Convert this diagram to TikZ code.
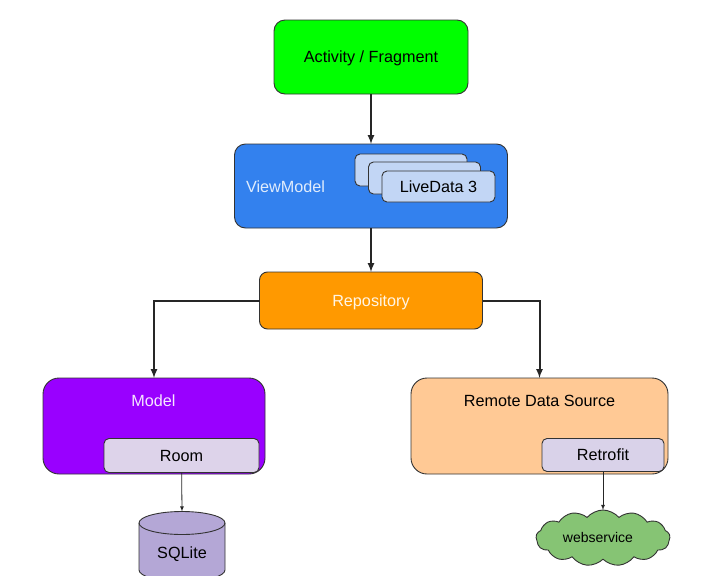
\documentclass[tikz,border=0pt]{standalone}
\usepackage{fontspec}
\setmainfont{Liberation Sans}
\usetikzlibrary{positioning, shapes.symbols}
\definecolor{aktivgruen}{HTML}{00FF00}
\definecolor{vmblau}{HTML}{3381EE}
\definecolor{livedatablau}{HTML}{C2D6F5}
\definecolor{repoorange}{HTML}{FF9900}
\definecolor{modellila}{HTML}{9900FF}
\definecolor{remotepfirsich}{HTML}{FFC995}
\definecolor{roomlila}{HTML}{DDD3EA}
\definecolor{retrofitlila}{HTML}{D9D2E9}
\definecolor{sqlitelila}{HTML}{B4A7D6}
\definecolor{cloudgruen}{HTML}{86C474}
\tikzset{box/.style={rectangle,draw=black!80,line width=.9pt,rounded corners=11pt,outer sep=0,inner sep=0,text depth=0pt},
	klein/.style={rectangle,draw=black!80,line width=.9pt,rounded corners=5pt,outer sep=0,inner sep=0,text depth=0pt},
	titel/.style={inner sep=0,text depth=0pt},
	pfeil/.style={draw=black!85,line width=2pt,-latex},
	duenn/.style={draw=black!85,line width=.8pt,-latex},
	deckel/.style={x radius=43pt, y radius=11.5pt} }

\begin{document}
\begin{tikzpicture}
	[x=1pt, y=-1pt,
	 font=\fontsize{16.2}{19}\selectfont]
  \useasboundingbox (0,0) rectangle (705,576);

  \node (activity) [box, fill=aktivgruen, minimum width=194pt, minimum height=74pt] at (371,57) {Activity / Fragment};

  \node (viewmodel) [box, fill=vmblau, minimum width=273pt, minimum height=84pt] at (371,186) {};
  \node (vmtext) [titel, text=white!85!vmblau] at (285.5,187) {ViewModel};
  \node (ld1) [klein, fill=livedatablau, minimum width=112pt, minimum height=32pt] at (411,170) {};
  \node (ld2) [klein, fill=livedatablau, minimum width=112pt, minimum height=32pt] at (424.5,178) {};
  \node (ld3) [klein, fill=livedatablau, minimum width=113pt, minimum height=31pt] at (438.5,186.5) {LiveData 3};

  \node (repo) [box, fill=repoorange, text=white!90!repoorange, rounded corners=8pt, minimum width=223pt, minimum height=57pt] at (371,300.5) {Repository};

  \node (model) [box, fill=modellila, rounded corners=16pt, minimum width=222pt, minimum height=96pt] at (154,426) {};
  \node (modeltext) [titel, text=white!90!modellila] at (153.5,400.5) {Model};
  \node (room) [klein, fill=roomlila, minimum width=155pt, minimum height=34pt] at (181.5,455.5) {Room};

  \node (remote) [box, fill=remotepfirsich, rounded corners=16pt, minimum width=257pt, minimum height=96pt] at (539.5,426) {};
  \node (remotetext) [titel] at (539.5,400.5) {Remote Data Source};
  \node (retrofit) [klein, fill=retrofitlila, minimum width=122pt, minimum height=33pt] at (603,455) {Retrofit};

  % cylinder drawn on a plain node
  \node (sqlite) [rectangle, outer sep=0, inner sep=0, minimum width=86pt, minimum height=70pt] at (182,546.5) {};
  \draw [draw=black!80, line width=.9pt, fill=sqlitelila]
  	([yshift=-11.5pt]sqlite.north west) arc [start angle=180, end angle=0, deckel]
  	-- ([yshift=11.5pt]sqlite.south east) arc [start angle=0, end angle=-180, deckel]
  	-- cycle;
  \draw [draw=black!80, line width=.9pt]
  	([yshift=-11.5pt]sqlite.north west) arc [start angle=180, end angle=360, deckel];
  \node (sqlitetext) [titel] at (182,553) {SQLite};

  \node (cloud) [cloud, cloud puffs=13, cloud puff arc=100, aspect=2.4, draw=black!80, line width=.9pt, fill=cloudgruen, outer sep=0, inner sep=0, minimum width=134pt, minimum height=56pt] at (603,538) {};
  \node (cloudtext) [titel, font=\fontsize{14}{17}\selectfont] at (598,537) {webservice};

  \draw [pfeil] (activity) -- (viewmodel);
  \draw [pfeil] (viewmodel) -- (repo);
  \draw [pfeil] (repo.west) -| (model.north);
  \draw [pfeil] (repo.east) -| (remote.north);
  \draw [duenn] (room) -- (sqlite.north);
  \draw [duenn] (retrofit) -- (cloud);
\end{tikzpicture}
\end{document}
